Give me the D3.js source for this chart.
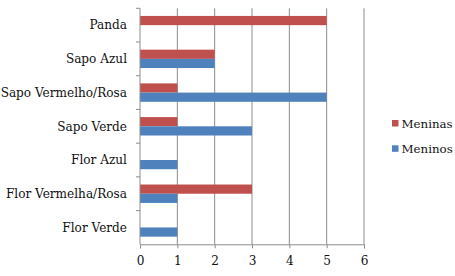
<!DOCTYPE html>
<html>
<head>
<meta charset="utf-8">
<script src="https://cdn.jsdelivr.net/npm/d3@7"></script>
<style>
  body { margin: 0; background: #fff; }
  svg text { font-family: 'DejaVu Serif', serif !important; fill: #111; }
</style>
</head>
<body>
<div id="chart"></div>
<script>
const categories = ["Flor Verde", "Flor Vermelha/Rosa", "Flor Azul", "Sapo Verde", "Sapo Vermelho/Rosa", "Sapo Azul", "Panda"];
const meninas = [0, 3, 0, 1, 1, 2, 5];
const meninos = [1, 1, 1, 3, 5, 2, 0];
const xTicks = [0, 1, 2, 3, 4, 5, 6];

const series = [
  {name: "Meninas", values: meninas, color: "#C0504D"},
  {name: "Meninos", values: meninos, color: "#4F81BD"}
];

const W = 455, H = 276;
const margin = {top: 8.3, right: 91, bottom: 31.7, left: 140};
const width = W - margin.left - margin.right,
    height = H - margin.top - margin.bottom;
const fontSize = "12.1px";

const svg = d3.select("#chart")
  .append("svg")
    .attr("width", W)
    .attr("height", H)
  .append("g")
    .attr("transform", `translate(${margin.left},${margin.top})`);

const x = d3.scaleLinear().domain([0, 6]).range([0, width]);

// top category first on screen
const y = d3.scaleBand()
  .domain(categories.slice().reverse())
  .range([0, height])
  .paddingInner(0.454)
  .paddingOuter(0.227);

const ySub = d3.scaleBand()
  .domain(series.map(s => s.name))
  .range([0, y.bandwidth()]);

// gridlines
svg.append("g")
  .selectAll("line")
  .data(xTicks.slice(1))
  .join("line")
    .attr("x1", d => x(d)).attr("x2", d => x(d))
    .attr("y1", 0).attr("y2", height)
    .attr("stroke", "#8c8c8c")
    .attr("stroke-width", 1);

// bars
series.forEach(function(s) {
  svg.append("g")
    .selectAll("rect")
    .data(categories.map((c, i) => ({cat: c, v: s.values[i]})))
    .join("rect")
      .attr("x", x(0))
      .attr("y", d => y(d.cat) + ySub(s.name))
      .attr("width", d => x(d.v) - x(0))
      .attr("height", ySub.bandwidth())
      .attr("fill", s.color);
});

// x axis
const xAxis = svg.append("g")
  .attr("transform", `translate(0, ${height})`)
  .call(d3.axisBottom(x).tickValues(xTicks).tickFormat(d3.format("d")).tickSize(4).tickPadding(8));
xAxis.select(".domain").attr("stroke", "#8c8c8c");
xAxis.selectAll(".tick line").attr("stroke", "#8c8c8c");
xAxis.selectAll("text").attr("font-size", fontSize);

// y axis
const yAxisG = svg.append("g");
yAxisG.append("line")
  .attr("x1", 0).attr("x2", 0).attr("y1", 0).attr("y2", height)
  .attr("stroke", "#8c8c8c");
yAxisG.selectAll("line.tk")
  .data(categories.slice().reverse())
  .join("line")
    .attr("class", "tk")
    .attr("x1", -4).attr("x2", 0)
    .attr("y1", d => y(d) - y.step() * y.paddingInner() / 2)
    .attr("y2", d => y(d) - y.step() * y.paddingInner() / 2)
    .attr("stroke", "#8c8c8c");
yAxisG.selectAll("text")
  .data(categories)
  .join("text")
    .attr("x", -13)
    .attr("y", d => y(d) + y.bandwidth() / 2)
    .attr("dy", "0.35em")
    .attr("text-anchor", "end")
    .attr("font-size", fontSize)
    .text(d => d);

// legend
const legend = d3.select("svg").append("g")
  .attr("transform", "translate(392, 120)");
series.forEach(function(s, i) {
  const g = legend.append("g").attr("transform", `translate(0, ${i * 25.3})`);
  g.append("rect").attr("width", 6.5).attr("height", 6.5).attr("fill", s.color);
  g.append("text")
    .attr("x", 9.5)
    .attr("y", 3.5)
    .attr("dy", "0.35em")
    .attr("font-size", "11.8px")
    .text(s.name);
});
</script>
</body>
</html>
